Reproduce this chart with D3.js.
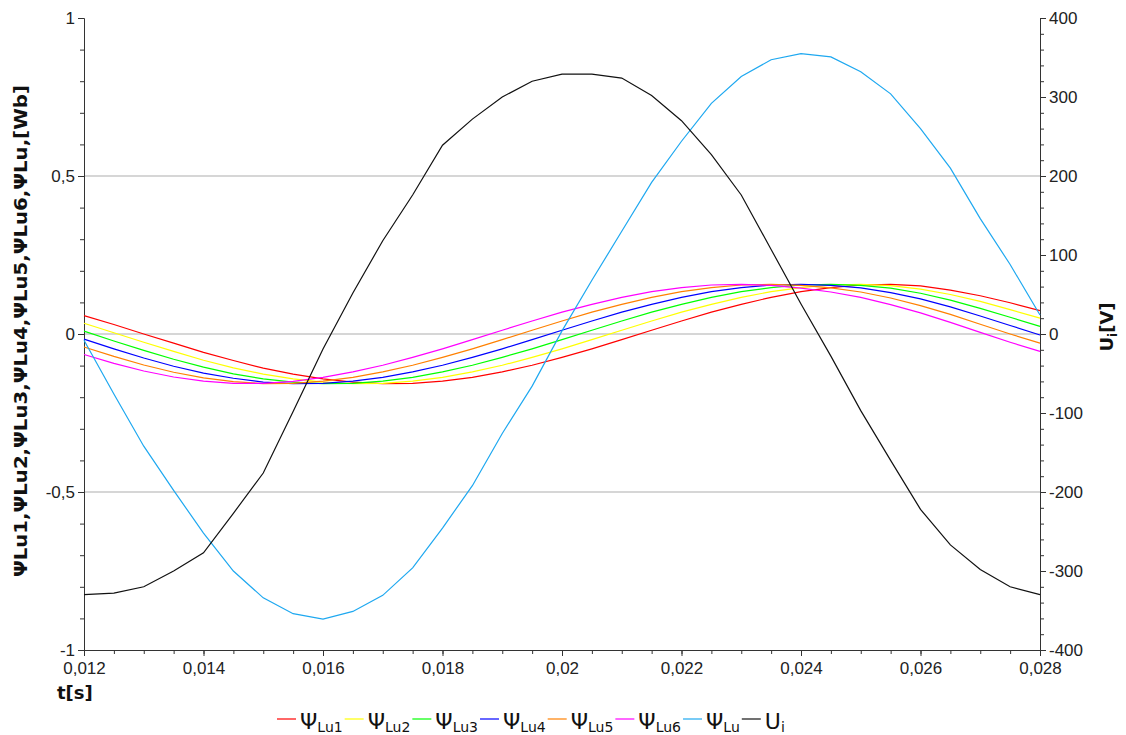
<!DOCTYPE html>
<html>
<head>
<meta charset="utf-8">
<script src="https://cdn.jsdelivr.net/npm/d3@7"></script>
<style>
  body { margin: 0; background: #fff; }
  svg { font-family: "DejaVu Sans", Verdana, sans-serif; }
</style>
</head>
<body>
<svg id="chart" width="1126" height="735"></svg>
<script>
// time samples [s]
var tSec = [0.012, 0.0125, 0.013, 0.0135, 0.014, 0.0145, 0.015, 0.0155, 0.016, 0.0165,
    0.017, 0.0175, 0.018, 0.0185, 0.019, 0.0195, 0.02, 0.0205, 0.021, 0.0215,
    0.022, 0.0225, 0.023, 0.0235, 0.024, 0.0245, 0.025, 0.0255, 0.026, 0.0265,
    0.027, 0.0275, 0.028];

// flux linkages [Wb]
var psiLu1 = [0.058, 0.030, 0.000, -0.029, -0.058, -0.084, -0.108, -0.127, -0.142, -0.152,
    -0.157, -0.156, -0.149, -0.137, -0.120, -0.099, -0.074, -0.047, -0.018, 0.012,
    0.041, 0.069, 0.094, 0.116, 0.134, 0.147, 0.155, 0.157, 0.152, 0.139,
    0.121, 0.099, 0.074];
var psiLu2 = [0.034, 0.004, -0.026, -0.055, -0.083, -0.107, -0.127, -0.142, -0.152, -0.157,
    -0.156, -0.149, -0.137, -0.120, -0.099, -0.074, -0.047, -0.018, 0.012, 0.041,
    0.069, 0.094, 0.116, 0.134, 0.147, 0.155, 0.157, 0.153, 0.142, 0.125,
    0.103, 0.077, 0.050];
var psiLu3 = [0.009, -0.022, -0.052, -0.080, -0.105, -0.126, -0.142, -0.152, -0.157, -0.156,
    -0.149, -0.137, -0.120, -0.099, -0.074, -0.047, -0.018, 0.012, 0.041, 0.069,
    0.094, 0.116, 0.134, 0.147, 0.155, 0.157, 0.154, 0.145, 0.129, 0.107,
    0.081, 0.053, 0.024];
var psiLu4 = [-0.016, -0.047, -0.076, -0.102, -0.124, -0.140, -0.152, -0.157, -0.156, -0.149,
    -0.137, -0.120, -0.099, -0.074, -0.047, -0.018, 0.012, 0.041, 0.069, 0.094,
    0.116, 0.134, 0.147, 0.155, 0.157, 0.154, 0.146, 0.131, 0.111, 0.086,
    0.057, 0.027, -0.003];
var psiLu5 = [-0.041, -0.071, -0.098, -0.121, -0.139, -0.151, -0.157, -0.156, -0.149, -0.137,
    -0.120, -0.099, -0.074, -0.047, -0.018, 0.012, 0.041, 0.069, 0.094, 0.116,
    0.134, 0.147, 0.155, 0.157, 0.154, 0.146, 0.133, 0.114, 0.090, 0.062,
    0.031, 0.000, -0.029];
var psiLu6 = [-0.065, -0.093, -0.117, -0.136, -0.149, -0.156, -0.156, -0.150, -0.137, -0.120,
    -0.099, -0.074, -0.047, -0.018, 0.012, 0.041, 0.069, 0.094, 0.116, 0.134,
    0.147, 0.155, 0.157, 0.154, 0.145, 0.133, 0.116, 0.093, 0.067, 0.037,
    0.005, -0.026, -0.055];
var psiLu = [-0.020, -0.190, -0.355, -0.495, -0.630, -0.750, -0.835, -0.885, -0.902, -0.878,
    -0.827, -0.740, -0.614, -0.480, -0.315, -0.165, 0.010, 0.170, 0.325, 0.480,
    0.610, 0.730, 0.815, 0.868, 0.887, 0.877, 0.830, 0.760, 0.650, 0.525,
    0.365, 0.220, 0.060];
// inverter voltage [V]
var uI = [-330, -328, -320, -300, -277, -227, -176, -98, -19, 52,
    118, 176, 239, 272, 300, 320, 329, 329, 324, 302,
    270, 227, 176, 107, 38, -28, -97, -160, -222, -267,
    -298, -320, -330];

var leftTicks = [-1, -0.5, 0, 0.5, 1];
var rightTicks = [-400, -300, -200, -100, 0, 100, 200, 300, 400];
var xTicks = [0.012, 0.014, 0.016, 0.018, 0.02, 0.022, 0.024, 0.026, 0.028];
var gridTicks = [-0.5, 0, 0.5];

var seriesNames = ["Lu1", "Lu2", "Lu3", "Lu4", "Lu5", "Lu6", "Lu", "i"];
var seriesColors = ["#ff0000", "#ffff00", "#00ff00", "#0000ff", "#ff8000", "#ff00ff", "#1ea8f0", "#111111"];

var margin = { top: 18, right: 86, bottom: 85, left: 84 },
    W = 1126, H = 735,
    width = W - margin.left - margin.right,
    height = H - margin.top - margin.bottom;

var svg = d3.select("#chart");

var locale = d3.formatLocale({ decimal: ",", thousands: " ", grouping: [3], currency: ["", ""], minus: "-" });
var fmt = locale.format("~g");

var x = d3.scaleLinear().domain([0.012, 0.028]).range([margin.left, margin.left + width]);
var yL = d3.scaleLinear().domain([-1, 1]).range([margin.top + height, margin.top]);
var yR = d3.scaleLinear().domain([-400, 400]).range([margin.top + height, margin.top]);

// grid lines
svg.append("g")
    .selectAll("line")
    .data(gridTicks)
    .enter().append("line")
    .attr("x1", margin.left).attr("x2", margin.left + width)
    .attr("y1", d => yL(d)).attr("y2", d => yL(d))
    .attr("stroke", "#c8c8c8")
    .attr("stroke-width", 1.5);

// minor ticks first, then major axes
function styleAxis(g) {
    g.selectAll("path, line").attr("stroke", "#333");
    g.selectAll("text").attr("fill", "#222").style("font-size", "17px");
}

svg.append("g")
    .attr("transform", "translate(" + margin.left + ",0)")
    .call(d3.axisLeft(yL).tickValues(d3.range(-10, 11).map(d => d / 10)).tickSize(4).tickSizeOuter(0).tickFormat(""))
    .call(styleAxis);
svg.append("g")
    .attr("transform", "translate(" + margin.left + ",0)")
    .call(d3.axisLeft(yL).tickValues(leftTicks).tickSize(6).tickSizeOuter(0).tickPadding(3).tickFormat(fmt))
    .call(styleAxis);

svg.append("g")
    .attr("transform", "translate(" + (margin.left + width) + ",0)")
    .call(d3.axisRight(yR).tickValues(d3.range(-20, 21).map(d => d * 20)).tickSize(4).tickSizeOuter(0).tickFormat(""))
    .call(styleAxis);
svg.append("g")
    .attr("transform", "translate(" + (margin.left + width) + ",0)")
    .call(d3.axisRight(yR).tickValues(rightTicks).tickSize(6).tickSizeOuter(0).tickPadding(3).tickFormat(fmt))
    .call(styleAxis);

svg.append("g")
    .attr("transform", "translate(0," + (margin.top + height) + ")")
    .call(d3.axisBottom(x).tickValues(d3.range(24, 57).map(d => d / 2000)).tickSize(4).tickSizeOuter(0).tickFormat(""))
    .call(styleAxis);
svg.append("g")
    .attr("transform", "translate(0," + (margin.top + height) + ")")
    .call(d3.axisBottom(x).tickValues(xTicks).tickSize(6).tickSizeOuter(0).tickPadding(6).tickFormat(fmt))
    .call(styleAxis);

// curves
var psiSeries = [psiLu1, psiLu2, psiLu3, psiLu4, psiLu5, psiLu6, psiLu];
var lineL = d3.line().x((d, i) => x(tSec[i])).y(d => yL(d));
var lineR = d3.line().x((d, i) => x(tSec[i])).y(d => yR(d));

svg.append("g")
    .selectAll("path")
    .data(psiSeries)
    .enter().append("path")
    .attr("d", lineL)
    .attr("fill", "none")
    .attr("stroke", (d, i) => seriesColors[i])
    .attr("stroke-width", 1.2);

svg.append("path")
    .datum(uI)
    .attr("d", lineR)
    .attr("fill", "none")
    .attr("stroke", seriesColors[7])
    .attr("stroke-width", 1.2);

// axis titles
svg.append("text")
    .attr("transform", "translate(27,331) rotate(-90)")
    .attr("text-anchor", "middle")
    .attr("textLength", 492)
    .attr("lengthAdjust", "spacingAndGlyphs")
    .style("font-size", "18px")
    .style("font-weight", "bold")
    .attr("fill", "#111")
    .text("ΨLu1,ΨLu2,ΨLu3,ΨLu4,ΨLu5,ΨLu6,ΨLu,[Wb]");

var rt = svg.append("text")
    .attr("transform", "translate(1113,327) rotate(-90)")
    .attr("text-anchor", "middle")
    .style("font-size", "18px")
    .style("font-weight", "bold")
    .attr("fill", "#111");
rt.append("tspan").text("U");
rt.append("tspan").attr("dy", 4).style("font-size", "12px").text("i");
rt.append("tspan").attr("dy", -4).text("[V]");

svg.append("text")
    .attr("x", 57).attr("y", 699)
    .style("font-size", "18px")
    .style("font-weight", "bold")
    .attr("fill", "#111")
    .text("t[s]");

// legend
var lx = 277;
seriesNames.forEach(function(name, i) {
    svg.append("line")
        .attr("x1", lx).attr("x2", lx + 19)
        .attr("y1", 719).attr("y2", 719)
        .attr("stroke", seriesColors[i])
        .attr("stroke-width", 1.2);
    var t = svg.append("text")
        .attr("x", lx + 23).attr("y", 729)
        .attr("fill", "#111")
        .style("font-size", "22px");
    t.append("tspan").text(i == 7 ? "U" : "Ψ");
    t.append("tspan").attr("dy", 3).style("font-size", "14px").text(name);
    lx = lx + 23 + t.node().getComputedTextLength() + 2;
});
</script>
</body>
</html>
